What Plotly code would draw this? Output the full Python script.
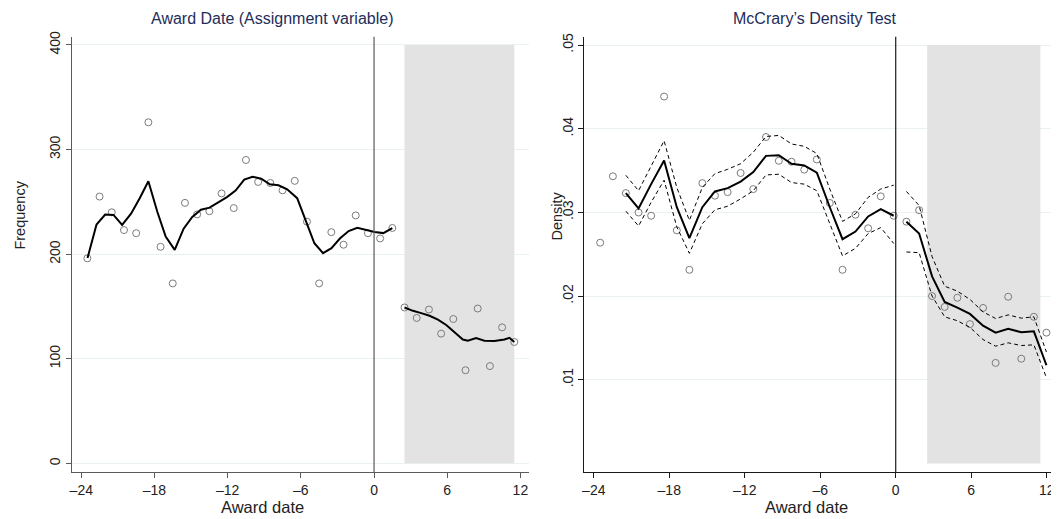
import plotly.graph_objects as go

# page body has an 8px margin; lay the figure out in window pixels
OFF = 8
W, H = 1059 - OFF, 519 - OFF

# ---------------- Left panel data: frequency by award date ----------------
freq_x_left = [-23.5, -22.5, -21.5, -20.5, -19.5, -18.5, -17.5, -16.5, -15.5, -14.5,
               -13.5, -12.5, -11.5, -10.5, -9.5, -8.5, -7.5, -6.5, -5.5, -4.5,
               -3.5, -2.5, -1.5, -0.5, 0.5, 1.5]
freq_left = [196, 255, 240, 223, 220, 326, 207, 172, 249, 238,
             241, 258, 244, 290, 269, 268, 261, 270, 231, 172,
             221, 209, 237, 220, 215, 225]
freq_x_right = [2.5, 3.5, 4.5, 5.5, 6.5, 7.5, 8.5, 9.5, 10.5, 11.5]
freq_right = [149, 139, 147, 124, 138, 89, 148, 93, 130, 116]

fit_x_left = [-23.49, -22.75, -22.04, -21.36, -20.65, -19.92, -19.21, -18.50, -17.76,
              -17.08, -16.34, -15.61, -14.90, -14.19, -13.48, -12.77, -12.06, -11.35,
              -10.64, -9.96, -9.25, -8.54, -7.83, -7.12, -6.30, -5.59, -4.89, -4.18,
              -3.49, -2.78, -2.08, -1.37, -0.66, 0.05, 0.76, 1.50]
fit_y_left = [196.2, 228.3, 237.8, 237.5, 228.0, 238.7, 253.5, 269.6, 240.3,
              216.7, 204.1, 224.3, 235.6, 242.5, 244.4, 249.1, 254.5, 260.8,
              271.2, 274.0, 272.1, 266.8, 265.8, 262.0, 253.5, 231.8, 210.4, 200.9,
              205.7, 215.1, 222.1, 225.2, 223.0, 221.1, 220.1, 224.9]
fit_x_right = [2.50, 3.19, 3.87, 4.55, 5.24, 5.92, 6.60, 7.28, 7.69, 8.37, 9.05,
               9.87, 10.69, 11.10, 11.50]
fit_y_right = [149.0, 145.8, 143.6, 141.1, 137.3, 132.3, 125.4, 118.4, 117.2, 119.7,
               117.2, 116.9, 118.4, 120.0, 115.9]

# ---------------- Right panel data: McCrary density ----------------
dens_x = [-23.49, -22.48, -21.45, -20.44, -19.44, -18.41, -17.40, -16.40, -15.37,
          -14.37, -13.36, -12.33, -11.32, -10.31, -9.29, -8.28, -7.27, -6.27,
          -5.24, -4.23, -3.20, -2.19, -1.19, -0.16,
          0.85, 1.86, 2.89, 3.89, 4.90, 5.90, 6.94, 7.94, 8.94, 9.98, 10.98, 11.98]
dens_y = [0.02638, 0.03432, 0.03231, 0.02999, 0.02960, 0.04385, 0.02786, 0.02314,
          0.03350, 0.03200, 0.03243, 0.03471, 0.03279, 0.03901, 0.03617, 0.03606,
          0.03511, 0.03633, 0.03113, 0.02314, 0.02972, 0.02810, 0.03192, 0.02960,
          0.02889, 0.03027, 0.02000, 0.01870, 0.01980, 0.01665, 0.01858, 0.01201,
          0.01992, 0.01251, 0.01752, 0.01563]

dfit_x_left = dens_x[2:24]
dfit_left = [0.03231, 0.03047, 0.03338, 0.03621, 0.03062, 0.02692, 0.03062, 0.03251,
             0.03290, 0.03369, 0.03483, 0.03676, 0.03684, 0.03582, 0.03562, 0.03475,
             0.03062, 0.02680, 0.02771, 0.02952, 0.03039, 0.02960]
dfit_left_hi = [0.03444, 0.03259, 0.03554, 0.03857, 0.03298, 0.02905, 0.03298, 0.03464,
                0.03515, 0.03582, 0.03719, 0.03908, 0.03920, 0.03818, 0.03790, 0.03704,
                0.03279, 0.02893, 0.02983, 0.03180, 0.03279, 0.03326]
dfit_left_lo = [0.03015, 0.02838, 0.03121, 0.03385, 0.02826, 0.02511, 0.02865, 0.03031,
                0.03074, 0.03161, 0.03259, 0.03448, 0.03456, 0.03357, 0.03338, 0.03259,
                0.02865, 0.02480, 0.02570, 0.02747, 0.02818, 0.02629]
dfit_x_right = dens_x[24:]
dfit_right = [0.02889, 0.02747, 0.02236, 0.01929, 0.01862, 0.01787, 0.01646, 0.01563,
              0.01610, 0.01567, 0.01579, 0.01173]
dfit_right_hi = [0.03251, 0.03082, 0.02472, 0.02118, 0.02059, 0.01960, 0.01811, 0.01732,
                 0.01775, 0.01736, 0.01752, 0.01331]
dfit_right_lo = [0.02527, 0.02519, 0.02000, 0.01752, 0.01705, 0.01626, 0.01480, 0.01401,
                 0.01441, 0.01409, 0.01417, 0.01024]

# ticks / labels
x_ticks = [-24, -18, -12, -6, 0, 6, 12]
x_ticktext = ["\u201324", "\u201318", "\u201312", "\u20136", "0", "6", "12"]
freq_ticks = [0, 100, 200, 300, 400]
dens_ticks = [0.01, 0.02, 0.03, 0.04, 0.05]
dens_ticktext = [".01", ".02", ".03", ".04", ".05"]
shade_x = [2.5, 11.5]
shade_freq = [0, 400]
shade_dens = [0, 0.05]
cutoff = 0

FONT = "Liberation Sans, Arial, Helvetica, sans-serif"
TITLE_C = "#1e2d5a"
MARK_C = "#7b7b7b"


def px(xp):
    return (xp - OFF) / W


def py(yp):
    return 1 - (yp - OFF) / H


fig = go.Figure()

mk = dict(symbol="circle-open", size=7, color=MARK_C, line=dict(width=1, color=MARK_C))

# Left panel traces
fig.add_trace(go.Scatter(x=freq_x_left + freq_x_right, y=freq_left + freq_right,
                         mode="markers", marker=mk, xaxis="x", yaxis="y", showlegend=False))
fig.add_trace(go.Scatter(x=fit_x_left, y=fit_y_left, mode="lines",
                         line=dict(color="black", width=2), xaxis="x", yaxis="y", showlegend=False))
fig.add_trace(go.Scatter(x=fit_x_right, y=fit_y_right, mode="lines",
                         line=dict(color="black", width=2), xaxis="x", yaxis="y", showlegend=False))

# Right panel traces
fig.add_trace(go.Scatter(x=dens_x, y=dens_y, mode="markers", marker=mk,
                         xaxis="x2", yaxis="y2", showlegend=False))
for xs, ys in [(dfit_x_left, dfit_left_hi), (dfit_x_left, dfit_left_lo),
               (dfit_x_right, dfit_right_hi), (dfit_x_right, dfit_right_lo)]:
    fig.add_trace(go.Scatter(x=xs, y=ys, mode="lines",
                             line=dict(color="black", width=1, dash="4px,3px"),
                             xaxis="x2", yaxis="y2", showlegend=False))
for xs, ys in [(dfit_x_left, dfit_left), (dfit_x_right, dfit_right)]:
    fig.add_trace(go.Scatter(x=xs, y=ys, mode="lines",
                             line=dict(color="black", width=2),
                             xaxis="x2", yaxis="y2", showlegend=False))

shapes = [
    dict(type="rect", xref="x", yref="y", x0=shade_x[0], x1=shade_x[1],
         y0=shade_freq[0], y1=shade_freq[1], fillcolor="#e3e3e3", line=dict(width=0),
         layer="between"),
    dict(type="rect", xref="x2", yref="y2", x0=shade_x[0], x1=shade_x[1],
         y0=shade_dens[0], y1=shade_dens[1], fillcolor="#e3e3e3", line=dict(width=0),
         layer="between"),
    dict(type="line", xref="x", yref="y domain", x0=cutoff, x1=cutoff, y0=0, y1=1,
         line=dict(color="#5a5a5a", width=1.2)),
    dict(type="line", xref="x2", yref="y2 domain", x0=cutoff, x1=cutoff, y0=0, y1=1,
         line=dict(color="#1a1a1a", width=1.2)),
]

tickfont = dict(family=FONT, size=14, color="#222")
ydom = [py(471.7), py(31)]
axis_common = dict(showline=True, linewidth=1.2, ticks="outside", ticklen=5,
                   tickwidth=1, showgrid=False, zeroline=False, tickfont=tickfont)

fig.update_layout(
    width=W, height=H,
    margin=dict(l=0, r=0, t=0, b=0),
    paper_bgcolor="white", plot_bgcolor="white",
    font=dict(family=FONT, color="#222"),
    shapes=shapes,
    xaxis=dict(domain=[px(70), px(528.3)], range=[-24.77, 12.73], tickvals=x_ticks,
               ticktext=x_ticktext, anchor="y", linecolor="#5a5a5a", tickcolor="#5a5a5a",
               **axis_common),
    yaxis=dict(domain=ydom, range=[-8.5, 407.8], tickvals=freq_ticks, tickangle=-90,
               anchor="x", linecolor="#5a5a5a", tickcolor="#5a5a5a",
               **{**axis_common, "showgrid": True}, gridcolor="#e9f1f2", gridwidth=1),
    xaxis2=dict(domain=[px(583.3), px(1056)], range=[-24.76, 12.74], tickvals=x_ticks,
                ticktext=x_ticktext, anchor="y2", linecolor="#1a1a1a", tickcolor="#1a1a1a",
                **axis_common),
    yaxis2=dict(domain=ydom, range=[-0.00106, 0.0510], tickvals=dens_ticks,
                ticktext=dens_ticktext, tickangle=-90, anchor="x2",
                linecolor="#1a1a1a", tickcolor="#1a1a1a",
                **{**axis_common, "showgrid": True}, gridcolor="#e9f1f2", gridwidth=1),
)


def label(text, xp, yp, size, color="#222", angle=0):
    return dict(text=text, x=px(xp), y=py(yp), xref="paper", yref="paper",
                xanchor="center", yanchor="middle", showarrow=False, textangle=angle,
                font=dict(family=FONT, size=size, color=color))


ann = [
    label("Award Date (Assignment variable)", 270, 13, 16, TITLE_C),
    label("McCrary\u2019s Density Test", 815, 13, 16, TITLE_C),
    label("Award date", 261, 507, 16.5),
    label("Award date", 806, 507, 16.5),
    label("Frequency", 18, 211, 14.5, angle=-90),
    label("Density", 556, 212, 14.5, angle=-90),
]
fig.update_layout(annotations=ann)

fig.write_html("out.html")
